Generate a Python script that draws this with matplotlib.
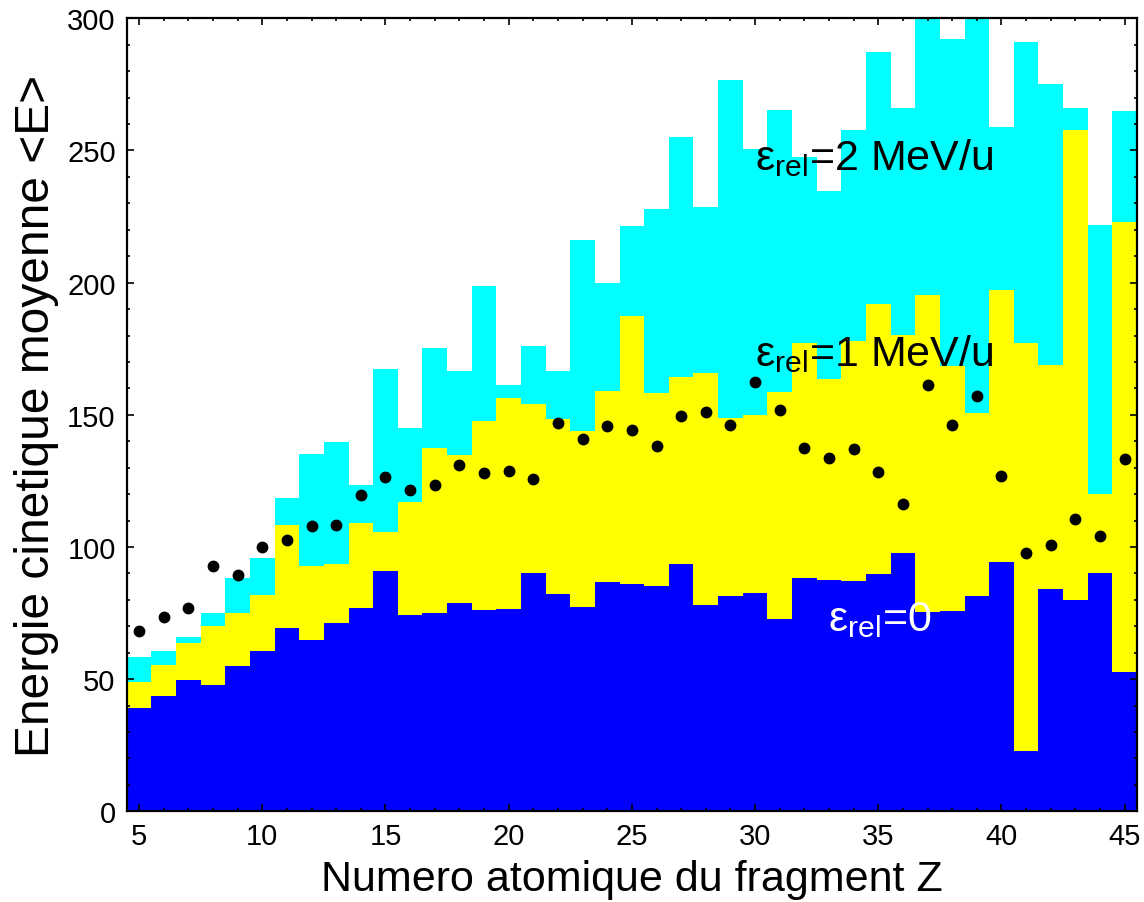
import numpy as np
import matplotlib
matplotlib.use("Agg")
import matplotlib.pyplot as plt
from matplotlib.ticker import MultipleLocator

plt.rcParams['font.family'] = ['Liberation Sans', 'DejaVu Sans']
plt.rcParams['mathtext.fontset'] = 'custom'
plt.rcParams['mathtext.rm'] = 'Liberation Sans'
plt.rcParams['mathtext.it'] = 'Liberation Sans:italic'
plt.rcParams['mathtext.bf'] = 'Liberation Sans:bold'

# fragment charge
Z = np.arange(5, 46)

# mean kinetic energy, eps_rel = 2 MeV/u (cyan, clipped at 300)
e_rel2 = [58.2, 60.8, 66.0, 75.2, 88.1, 95.9, 118.5, 135.2, 139.9, 123.4,
          167.3, 144.9, 175.1, 166.6, 198.7, 161.1, 176.2, 166.6, 216.0, 200.0,
          221.3, 227.8, 255.1, 228.7, 276.8, 250.6, 265.3, 247.5, 234.7, 257.9,
          287.2, 266.0, 305.0, 292.0, 305.0, 258.9, 291.0, 275.3, 266.0, 221.9,
          265.0]

# eps_rel = 1 MeV/u (yellow)
e_rel1 = [49.0, 55.5, 63.6, 70.0, 75.2, 81.7, 108.3, 92.7, 93.5, 109.2,
          105.6, 117.0, 137.3, 134.7, 147.5, 156.5, 154.0, 148.5, 143.7, 159.1,
          187.5, 158.3, 164.2, 165.7, 148.7, 149.8, 158.8, 177.3, 163.7, 177.8,
          192.0, 180.3, 195.2, 168.4, 150.6, 197.1, 177.3, 169.0, 257.9, 120.0,
          222.9]

# eps_rel = 0 (blue)
e_rel0 = [39.0, 43.8, 49.8, 47.7, 55.0, 60.6, 69.5, 64.8, 71.3, 76.8,
          90.8, 74.1, 75.0, 79.0, 76.0, 76.4, 90.2, 82.2, 77.4, 86.8,
          85.9, 85.4, 93.5, 78.0, 81.6, 82.7, 72.6, 88.1, 87.5, 87.1,
          89.6, 97.6, 75.4, 75.8, 81.4, 94.2, 23.0, 84.3, 79.8, 90.3,
          52.7]

# experimental points
e_exp = [68.1, 73.6, 77.0, 92.7, 89.3, 99.9, 102.7, 108.0, 108.3, 119.8,
         126.6, 121.6, 123.5, 131.2, 127.9, 128.9, 125.7, 146.9, 140.7, 145.6,
         144.4, 138.2, 149.5, 151.0, 146.3, 162.6, 151.8, 137.5, 133.6, 137.2,
         128.4, 116.4, 161.1, 146.1, 157.0, 126.9, 97.8, 100.8, 110.5, 104.1,
         133.2]

fig = plt.figure(figsize=(11.44, 9.03), dpi=100)
ax = fig.add_axes([0.1108, 0.1004, 0.8831, 0.8782])

edges = np.append(Z - 0.5, Z[-1] + 0.5)
ax.stairs(e_rel2, edges, baseline=0, fill=True, color='#00ffff', lw=0)
ax.stairs(e_rel1, edges, baseline=0, fill=True, color='#ffff00', lw=0)
ax.stairs(e_rel0, edges, baseline=0, fill=True, color='#0000ff', lw=0)
ax.plot(Z, e_exp, 'o', color='black', ms=7.5, zorder=5)

ax.text(30.0, 243, r'$\mathrm{\varepsilon_{rel}}$=2 MeV/u', fontsize=31,
        color='black', ha='left', va='baseline', zorder=6)
ax.text(30.0, 169, r'$\mathrm{\varepsilon_{rel}}$=1 MeV/u', fontsize=31,
        color='black', ha='left', va='baseline', zorder=6)
ax.text(32.95, 68.5, r'$\mathrm{\varepsilon_{rel}}$=0', fontsize=31,
        color='white', ha='left', va='baseline', zorder=6)

ax.set_xlim(4.5, 45.5)
ax.set_ylim(0, 300)
ax.xaxis.set_major_locator(MultipleLocator(5))
ax.xaxis.set_minor_locator(MultipleLocator(1))
ax.yaxis.set_major_locator(MultipleLocator(50))
ax.yaxis.set_minor_locator(MultipleLocator(10))
ax.tick_params(which='both', direction='in', top=True, right=True,
               labelsize=21, width=1.2)
ax.tick_params(which='major', length=5, pad=8)
ax.tick_params(which='minor', length=2.5)
for s in ax.spines.values():
    s.set_linewidth(1.6)
    s.set_zorder(7)

ax.set_xlabel('Numero atomique du fragment Z', fontsize=31, labelpad=6)
ax.set_ylabel('Energie cinetique moyenne <E>', fontsize=34.5, labelpad=6)

fig.savefig('out.png', dpi=100)
